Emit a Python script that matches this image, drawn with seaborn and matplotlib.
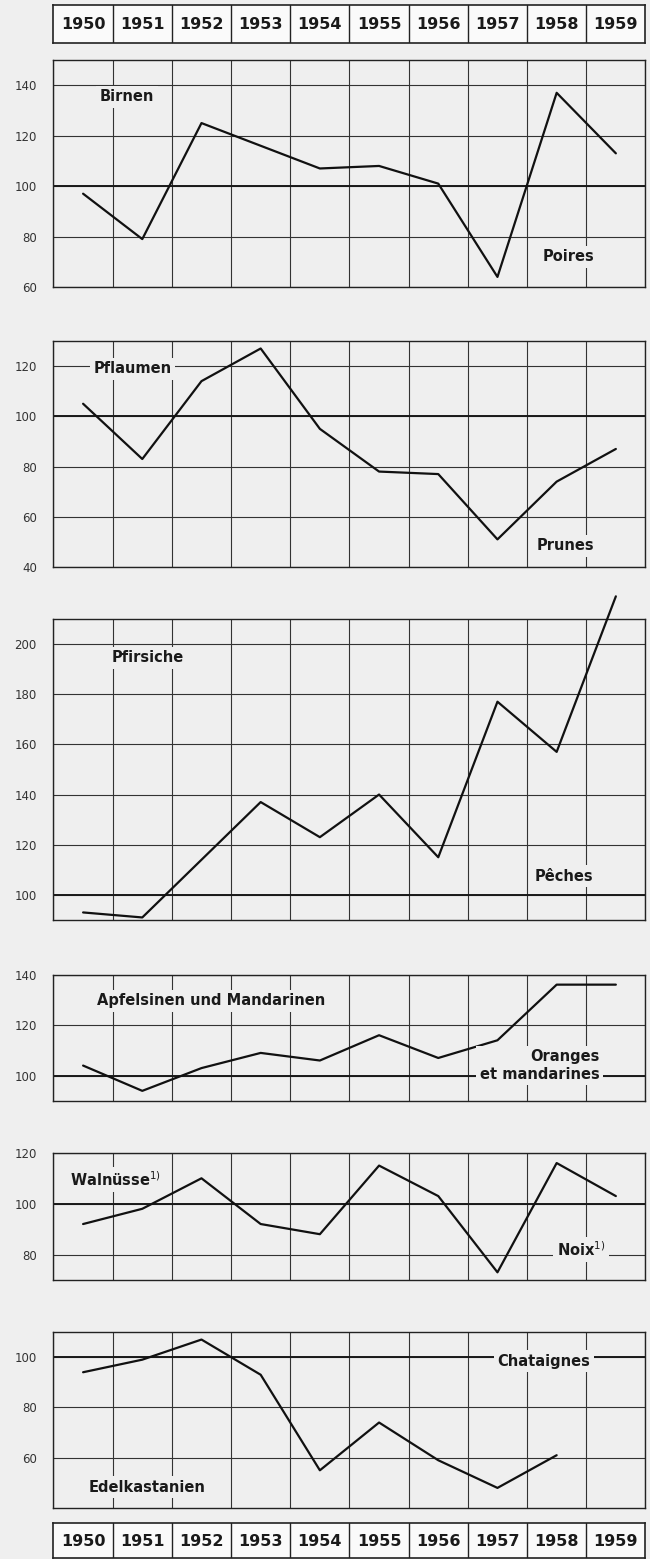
import numpy as np
import pandas as pd
import matplotlib
matplotlib.use("Agg")
import matplotlib.pyplot as plt
import seaborn as sns

# ================== DATA ==================
years = [1950, 1951, 1952, 1953, 1954, 1955, 1956, 1957, 1958, 1959]

birnen = [97, 79, 125, 116, 107, 108, 101, 64, 137, 113]
pflaumen = [105, 83, 114, 127, 95, 78, 77, 51, 74, 87]
pfirsiche = [93, 91, 114, 137, 123, 140, 115, 177, 157, 219]
apfelsinen = [104, 94, 103, 109, 106, 116, 107, 114, 136, 136]
walnuesse = [92, 98, 110, 92, 88, 115, 103, 73, 116, 103]
kastanien = [94, 99, 107, 93, 55, 74, 59, 48, 61, np.nan]

# ================== STYLE ==================
BG = "#efefef"
sns.set_theme(style="white")
plt.rcParams["font.family"] = ["DejaVu Sans"]

fig = plt.figure(figsize=(6.5, 15.59), dpi=100, facecolor=BG)

X0, W = 0.0823, 0.9107

# panel: (values, ylim, yticks, fig bottom, fig height, labels)
panels = [
    (birnen, (60, 150), [60, 80, 100, 120, 140], 0.8159, 0.1456,
     [("Birnen", 1950.28, 135.5, "left"), ("Poires", 1957.76, 72, "left")]),
    (pflaumen, (40, 130), [40, 60, 80, 100, 120], 0.6363, 0.1450,
     [("Pflaumen", 1950.17, 119, "left"), ("Prunes", 1957.66, 48.5, "left")]),
    (pfirsiche, (90, 210), [100, 120, 140, 160, 180, 200], 0.4099, 0.1931,
     [("Pfirsiche", 1950.49, 194.5, "left"), ("Pêches", 1957.63, 107.5, "left")]),
    (apfelsinen, (90, 140), [100, 120, 140], 0.2938, 0.0811,
     [("Apfelsinen und Mandarinen", 1950.23, 129.7, "left"),
      ("Oranges\net mandarines", 1958.72, 104, "right")]),
    (walnuesse, (70, 120), [80, 100, 120], 0.1790, 0.0815,
     [("Walnüsse$^{1)}$", 1949.78, 109.5, "left"), ("Noix$^{1)}$", 1958.0, 82, "left")]),
    (kastanien, (40, 110), [60, 80, 100], 0.0327, 0.1129,
     [("Chataignes", 1957.0, 98.3, "left"), ("Edelkastanien", 1950.1, 48.2, "left")]),
]

bounds = [y - 0.5 for y in years] + [years[-1] + 0.5]


def year_header(bottom, height):
    hx = fig.add_axes([X0, bottom, W, height])
    hx.set_facecolor("#fafafa")
    hx.set_xlim(bounds[0], bounds[-1])
    hx.set_ylim(0, 1)
    for b in bounds[1:-1]:
        hx.axvline(b, color="#222222", lw=1.0)
    for y in years:
        hx.text(y, 0.48, str(y), ha="center", va="center",
                fontsize=11.5, fontweight="bold", color="#1a1a1a")
    hx.set_xticks([])
    hx.set_yticks([])
    for s in hx.spines.values():
        s.set_color("#222222")
        s.set_linewidth(1.2)


year_header(0.9724, 0.0244)
year_header(0.0005, 0.0225)

for vals, ylim, yticks, bottom, height, labels in panels:
    ax = fig.add_axes([X0, bottom, W, height])
    ax.set_facecolor(BG)
    df = pd.DataFrame({"year": years, "value": vals})

    ax.set_xlim(bounds[0], bounds[-1])
    ax.set_ylim(*ylim)
    ax.set_xticks(bounds)
    ax.set_xticklabels([])
    ax.set_yticks(yticks)
    ax.grid(True, color="#333333", lw=0.8)
    ax.axhline(100, color="#1a1a1a", lw=1.4, zorder=1.5)

    sns.lineplot(data=df, x="year", y="value", ax=ax, color="#111111",
                 lw=1.6, clip_on=False, zorder=3)
    ax.set_xlabel("")
    ax.set_ylabel("")
    ax.tick_params(axis="both", length=0)
    ax.tick_params(axis="y", pad=12, labelsize=8.5, labelcolor="#333333")

    for s in ax.spines.values():
        s.set_color("#222222")
        s.set_linewidth(1.0)

    for txt, x, y, ha in labels:
        ax.text(x, y, txt, ha=ha, va="center", fontsize=10.5,
                fontweight="bold", color="#1a1a1a", zorder=4,
                multialignment="right", linespacing=1.2,
                bbox=dict(facecolor=BG, edgecolor="none", pad=2.5))

fig.savefig("out.png", dpi=100, facecolor=BG)
